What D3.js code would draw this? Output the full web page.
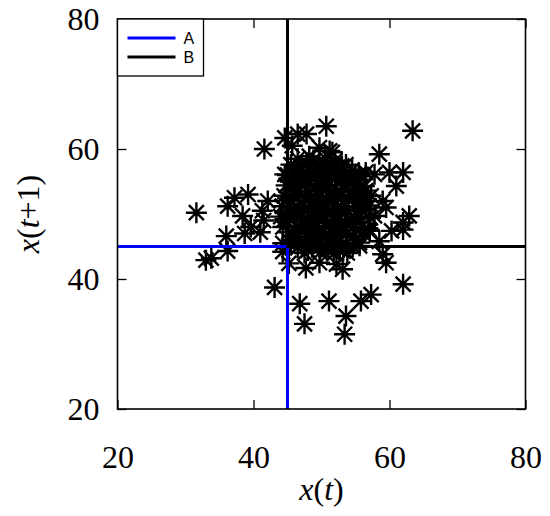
<!DOCTYPE html>
<html>
<head>
<meta charset="utf-8">
<script src="https://cdn.jsdelivr.net/npm/d3@7"></script>
<style>
  body { margin: 0; background: #fff; }
  .tick text { font-family: "Liberation Serif", "Times New Roman", serif; font-size: 32px; fill: #000; }
  .axis path { display: none; }
  .axis line { stroke: #000; stroke-width: 1.3px; }
  .frame { fill: none; stroke: #000; stroke-width: 1.6px; }
  .star { stroke: #000; stroke-width: 2.4px; fill: none; }
  .lbl { font-family: "Liberation Serif", "Times New Roman", serif; font-size: 32px; }
  .leg { font-family: "Liberation Sans", Arial, sans-serif; font-size: 16px; }
</style>
</head>
<body>
<svg id="chart" width="550" height="516"></svg>
<script>
// x(t) and x(t+1)
var xt = [31.6, 33.0, 33.8, 36.0, 36.2, 43.1, 45.2, 46.8, 47.5, 36.2, 37.2, 39.2, 38.4, 41.6, 44.6, 44.6, 46.5,
  50.7, 63.4, 58.5, 62.0, 61.0, 60.0, 57.8, 62.9, 62.0, 59.0, 59.5, 57.3, 53.6, 47.8, 49.7, 51.6,
  62.0, 57.3, 55.8, 51.1, 53.6, 53.4, 59.5, 59.0, 53.1, 52.2, 47.7, 49.7, 62.0, 42.1, 41.3, 38.7,
  39.6, 41.0, 41.5, 44.3, 44.3, 57.1, 58.5, 60.3, 55.6, 57.8, 54.9, 56.3, 45.7, 48.2, 51.2, 52.6,
  55.5, 56.5,
  46.5, 48.8, 50.5, 52.0,
  45.5, 47.8, 49.6, 51.3, 53.0,
  46.2, 48.5, 50.3, 52.2, 54.5,
  45.0, 47.2, 49.2, 51.0, 53.2, 55.5,
  46.0, 48.0, 50.0, 52.0, 54.0,
  44.8, 47.0, 49.0, 51.2, 53.3, 55.8,
  45.8, 48.1, 50.2, 52.3, 54.5, 56.5,
  44.5, 46.8, 49.0, 51.0, 53.0, 55.2,
  45.5, 47.6, 49.8, 52.0, 54.0, 56.2,
  44.2, 46.5, 48.6, 50.8, 53.0, 55.0, 57.0,
  45.3, 47.4, 49.5, 51.6, 53.8, 56.0,
  44.0, 46.2, 48.4, 50.5, 52.6, 54.8, 57.2,
  45.0, 47.2, 49.3, 51.4, 53.5, 55.6,
  44.3, 46.3, 48.5, 50.6, 52.7, 54.8, 56.8,
  45.2, 47.5, 49.6, 51.7, 53.8, 56.0,
  46.2, 48.4, 50.5, 52.6, 54.7,
  45.5, 47.5, 49.5, 51.5, 53.6, 55.6,
  46.5, 48.6, 50.6, 52.7, 54.6,
  47.5, 49.8, 51.8, 53.8,
  47.0, 50.8, 52.6,
  45.6, 49.0, 53.0, 55.0,
  46.4, 50.0, 54.8,
  45.0, 48.4, 51.6, 55.6,
  46.0, 49.6, 52.4, 56.6,
  44.6, 48.0, 51.8, 55.0,
  46.8, 50.2, 53.0, 57.0,
  46.0, 49.0, 52.0, 55.0,
  48.0, 51.0, 53.2];
var xt1 = [50.2, 42.9, 43.2, 46.6, 44.3, 38.7, 42.4, 36.2, 33.1, 51.2, 52.5, 53.0, 49.7, 60.0, 56.1, 61.7, 62.3,
  63.5, 62.8, 59.2, 56.4, 54.3, 56.4, 56.1, 49.7, 48.7, 52.0, 51.0, 52.8, 57.6, 62.3, 60.2, 59.5,
  39.2, 37.6, 36.6, 36.6, 34.3, 31.5, 42.5, 43.8, 41.5, 42.3, 41.7, 42.5, 47.6, 52.0, 50.5, 47.0,
  48.0, 47.2, 49.0, 45.5, 44.2, 47.4, 45.8, 47.4, 45.1, 49.7, 55.8, 54.3, 60.5, 58.9, 59.7, 56.6,
  56.1, 56.4,
  58.5, 58.3, 58.6, 58.2,
  57.6, 57.8, 57.5, 57.7, 57.4,
  56.8, 56.6, 56.9, 56.7, 56.8,
  56.0, 56.2, 55.9, 56.1, 56.0, 55.8,
  55.2, 55.3, 55.1, 55.4, 55.2,
  54.4, 54.6, 54.3, 54.5, 54.4, 54.2,
  53.6, 53.5, 53.7, 53.6, 53.4, 53.6,
  52.8, 52.9, 52.7, 52.8, 53.0, 52.8,
  52.0, 52.1, 51.9, 52.0, 52.2, 52.0,
  51.2, 51.1, 51.3, 51.2, 51.0, 51.2, 51.3,
  50.4, 50.5, 50.3, 50.4, 50.6, 50.4,
  49.6, 49.7, 49.5, 49.6, 49.8, 49.6, 49.4,
  48.8, 48.9, 48.7, 48.8, 48.6, 48.8,
  48.0, 48.1, 47.9, 48.0, 48.2, 48.0, 47.8,
  47.2, 47.3, 47.1, 47.2, 47.0, 47.2,
  46.4, 46.5, 46.3, 46.4, 46.6,
  45.6, 45.7, 45.5, 45.6, 45.4, 45.6,
  44.8, 44.9, 44.7, 44.8, 45.0,
  44.0, 44.1, 43.9, 44.0,
  57.2, 57.1, 57.3,
  55.6, 55.7, 55.5, 55.6,
  54.0, 54.1, 53.9,
  52.4, 52.5, 52.3, 52.4,
  50.8, 50.9, 50.7, 50.8,
  49.2, 49.3, 49.1, 49.2,
  47.6, 47.7, 47.5, 47.6,
  46.0, 46.1, 45.9, 46.0,
  44.4, 44.5, 44.3];

var tickVals = [20, 40, 60, 80];
var threshold = 45;
var seriesNames = ["A", "B"];
var seriesColors = ["#0000ff", "#000000"];

var svg = d3.select("#chart");
var x = d3.scaleLinear().domain([20, 80]).range([117.5, 525.5]);
var y = d3.scaleLinear().domain([20, 80]).range([409, 19]);

// points
var pts = d3.zip(xt, xt1);
var r = 10.5, d = 7.5;
var star = "M" + (-r) + ",0L" + r + ",0M0," + (-r) + "L0," + r +
  "M" + (-d) + "," + (-d) + "L" + d + "," + d + "M" + (-d) + "," + d + "L" + d + "," + (-d);
svg.append("g").selectAll("path").data(pts).enter().append("path")
  .attr("class", "star")
  .attr("d", star)
  .attr("transform", function(p) { return "translate(" + x(p[0]) + "," + y(p[1]) + ")"; });

// threshold lines A (blue) and B (black)
var lineA = [[20, threshold], [threshold, threshold], [threshold, 20]];
var lineB = [[threshold, 80], [threshold, threshold], [80, threshold]];
var line = d3.line().x(function(p) { return x(p[0]); }).y(function(p) { return y(p[1]); });
[lineA, lineB].forEach(function(l, i) {
  svg.append("path").attr("d", line(l))
    .attr("fill", "none").attr("stroke", seriesColors[i]).attr("stroke-width", 3);
});

// axes, ticks pointing inwards
svg.append("g").attr("class", "axis").attr("transform", "translate(0," + y(20) + ")")
  .call(d3.axisBottom(x).tickValues(tickVals).tickSizeInner(-9).tickSizeOuter(0).tickPadding(36));
svg.append("g").attr("class", "axis").attr("transform", "translate(" + x(20) + ",0)")
  .call(d3.axisLeft(y).tickValues(tickVals).tickSizeInner(-9).tickSizeOuter(0).tickPadding(18));
svg.append("g").attr("class", "axis").attr("transform", "translate(0," + y(80) + ")")
  .call(d3.axisTop(x).tickValues(tickVals).tickSizeInner(-9).tickSizeOuter(0).tickFormat(""));
svg.append("g").attr("class", "axis").attr("transform", "translate(" + x(80) + ",0)")
  .call(d3.axisRight(y).tickValues(tickVals).tickSizeInner(-9).tickSizeOuter(0).tickFormat(""));

svg.append("rect").attr("class", "frame")
  .attr("x", x(20)).attr("y", y(80)).attr("width", x(80) - x(20)).attr("height", y(20) - y(80));

// axis labels
var xl = svg.append("text").attr("class", "lbl").attr("text-anchor", "middle")
  .attr("x", (x(20) + x(80)) / 2).attr("y", 500);
xl.append("tspan").attr("font-style", "italic").text("x");
xl.append("tspan").text("(");
xl.append("tspan").attr("font-style", "italic").text("t");
xl.append("tspan").text(")");

var yl = svg.append("text").attr("class", "lbl").attr("text-anchor", "middle")
  .attr("transform", "translate(39," + (y(20) + y(80)) / 2 + ") rotate(-90)");
yl.append("tspan").attr("font-style", "italic").text("x");
yl.append("tspan").text("(");
yl.append("tspan").attr("font-style", "italic").text("t");
yl.append("tspan").text("+1)");

// legend
var leg = svg.append("g").attr("transform", "translate(" + x(20) + "," + y(80) + ")");
leg.append("rect").attr("width", 86).attr("height", 57)
  .attr("fill", "#fff").attr("stroke", "#000").attr("stroke-width", 1.3);
seriesNames.forEach(function(n, i) {
  var yy = 19 + i * 19;
  leg.append("line").attr("x1", 10).attr("x2", 58).attr("y1", yy).attr("y2", yy)
    .attr("stroke", seriesColors[i]).attr("stroke-width", 3);
  leg.append("text").attr("class", "leg").attr("x", 66).attr("y", yy + 6).text(n);
});
</script>
</body>
</html>
